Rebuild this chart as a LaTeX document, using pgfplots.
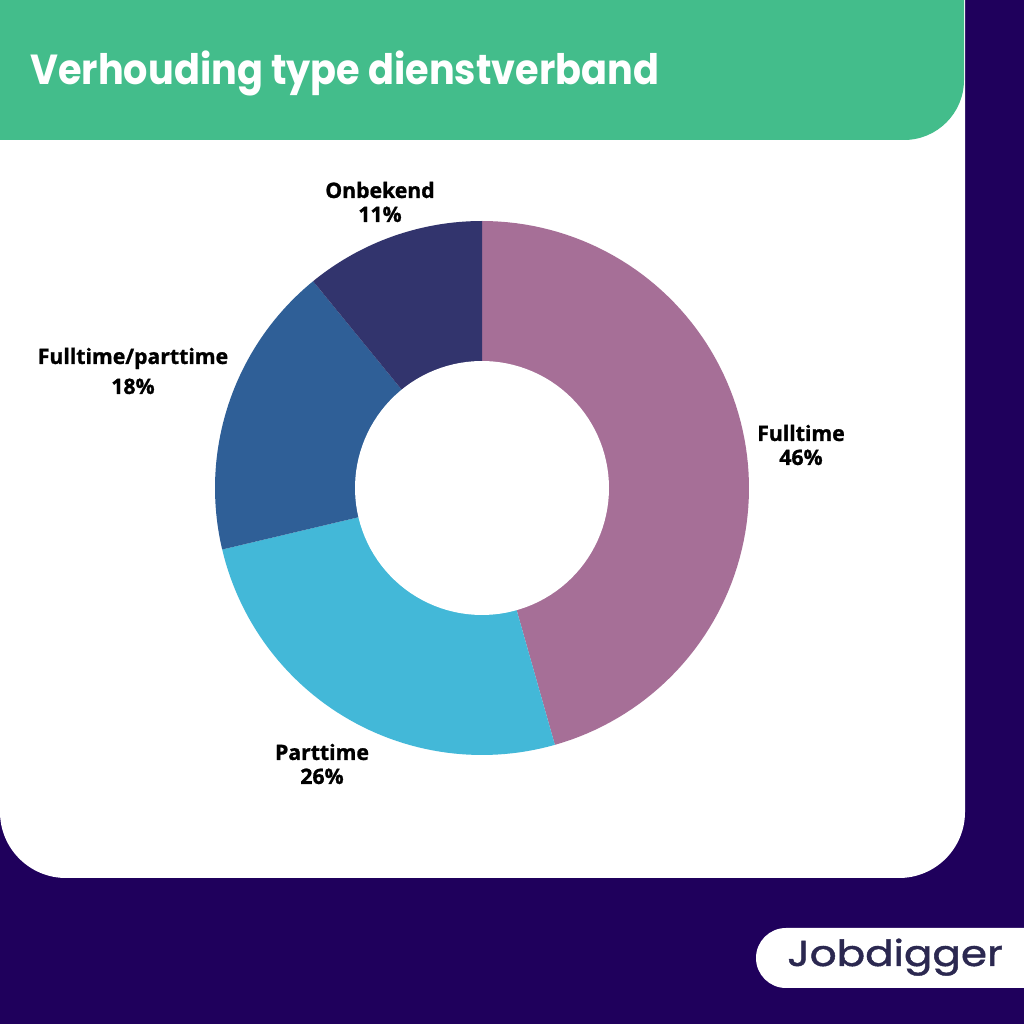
\documentclass[border=0pt]{standalone}
\usepackage{pgfplots}
\usepackage{pgfplotstable}
\pgfplotsset{compat=1.18}
\usepackage{fontspec}
\setmainfont{Open Sans}[BoldFeatures={FakeBold=1.2}]
\newfontfamily\titlefont{Poppins}
\newfontfamily\logofont{Poppins}[FakeBold=1.2]

\definecolor{bgpurple}{RGB}{31,0,92}
\definecolor{headgreen}{RGB}{67,189,139}
\definecolor{cFull}{RGB}{166,111,151}
\definecolor{cPart}{RGB}{67,184,216}
\definecolor{cMix}{RGB}{47,95,151}
\definecolor{cUnk}{RGB}{50,52,109}
\definecolor{logoink}{RGB}{43,40,80}

% share per type of employment, in percent
\pgfplotstableread{
label value
Fulltime 45.6
Parttime 25.7
Fulltime/parttime 17.8
Onbekend 10.9
}\datatable

% slice angles, clockwise from the top
\pgfplotstablegetelem{0}{value}\of\datatable \let\vA\pgfplotsretval
\pgfplotstablegetelem{1}{value}\of\datatable \let\vB\pgfplotsretval
\pgfplotstablegetelem{2}{value}\of\datatable \let\vC\pgfplotsretval
\pgfplotstablegetelem{3}{value}\of\datatable \let\vD\pgfplotsretval
\pgfmathsetmacro\aA{90}
\pgfmathsetmacro\aB{\aA-3.6*\vA}
\pgfmathsetmacro\aC{\aB-3.6*\vB}
\pgfmathsetmacro\aD{\aC-3.6*\vC}
\pgfmathsetmacro\aE{\aD-3.6*\vD}

\begin{document}
\begin{tikzpicture}[x=0.5pt,y=0.5pt]
\useasboundingbox (0,0) rectangle (1024,1024);
\clip (0,0) rectangle (1024,1024);
\fill[bgpurple] (0,0) rectangle (1024,1024);
\fill[white, rounded corners=33] (0,146) rectangle (965,1100);
\fill[headgreen, rounded corners=30] (-100,884) rectangle (964,1100);
\fill[white] (1100,36) -- (786,36) arc (270:90:30) -- (1100,96) -- cycle;
\node[anchor=base west, text=white, inner sep=0pt]
  at (30,939) {\scalebox{0.91}[1]{\titlefont\bfseries\fontsize{21}{25}\selectfont Verhouding type dienstverband}};
\node[anchor=base west, text=logoink, inner sep=0pt]
  at (787,58) {\scalebox{1.17}[1]{\logofont\fontsize{18}{20}\selectfont Jobdigger}};

\begin{axis}[
  at={(0,0)}, anchor=south west,
  width=512pt, height=512pt, scale only axis,
  xmin=0, xmax=1024, ymin=0, ymax=1024,
  hide axis, clip=false,
]
\addplot[fill=cFull, draw=none, domain=\aB:\aA, samples=90]
  ({482+267*cos(x)},{536+267*sin(x)}) -- (axis cs:482,536) -- cycle;
\addplot[fill=cPart, draw=none, domain=\aC:\aB, samples=60]
  ({482+267*cos(x)},{536+267*sin(x)}) -- (axis cs:482,536) -- cycle;
\addplot[fill=cMix, draw=none, domain=\aD:\aC, samples=50]
  ({482+267*cos(x)},{536+267*sin(x)}) -- (axis cs:482,536) -- cycle;
\addplot[fill=cUnk, draw=none, domain=\aE:\aD, samples=40]
  ({482+267*cos(x)},{536+267*sin(x)}) -- (axis cs:482,536) -- cycle;
% hole of the donut
\addplot[fill=white, draw=none, domain=0:360, samples=120]
  ({482+127*cos(x)},{536+127*sin(x)}) -- cycle;

\node[align=center, font=\bfseries\fontsize{10.6}{12}\selectfont] at (axis cs:801,579) {Fulltime\\46\%};
\node[align=center, font=\bfseries\fontsize{10.6}{12}\selectfont] at (axis cs:322,260) {Parttime\\26\%};
\node[align=center, font=\bfseries\fontsize{10.6}{15}\selectfont] at (axis cs:133,653) {Fulltime/parttime\\18\%};
\node[align=center, font=\bfseries\fontsize{10.6}{12}\selectfont] at (axis cs:380,822) {Onbekend\\11\%};
\end{axis}
\end{tikzpicture}
\end{document}
